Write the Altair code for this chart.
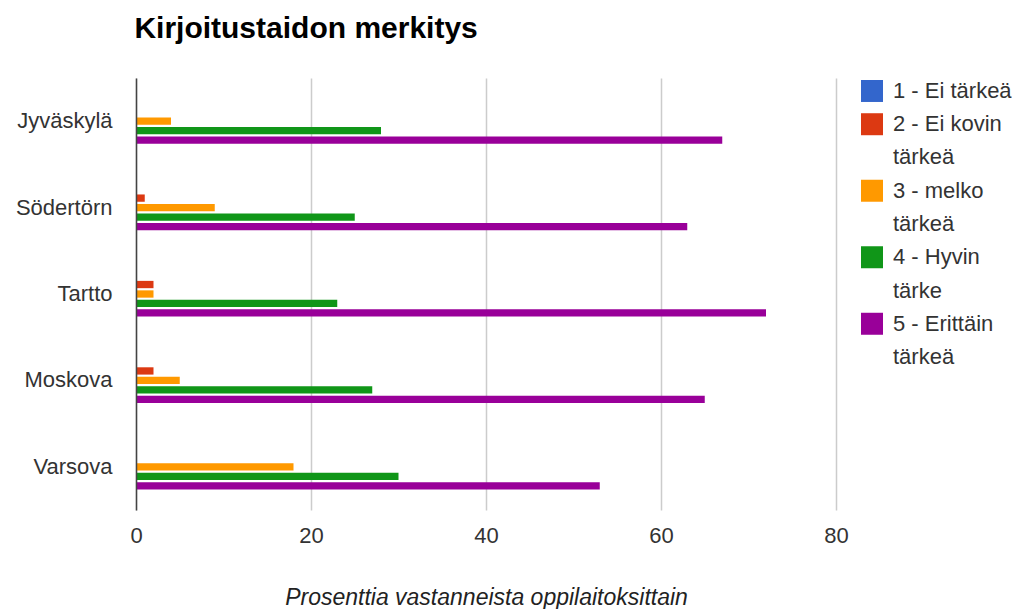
import altair as alt
import pandas as pd

cities = ["Jyväskylä", "Södertörn", "Tartto", "Moskova", "Varsova"]
levels = ["1 - Ei tärkeä", "2 - Ei kovin tärkeä", "3 - melko tärkeä",
          "4 - Hyvin tärke", "5 - Erittäin tärkeä"]
legend_lines = [["1 - Ei tärkeä"], ["2 - Ei kovin", "tärkeä"], ["3 - melko", "tärkeä"],
                ["4 - Hyvin", "tärke"], ["5 - Erittäin", "tärkeä"]]
colors = ["#3366cc", "#dc3912", "#ff9900", "#109618", "#990099"]

v1 = [0, 0, 0, 0, 0]
v2 = [0, 1, 2, 2, 0]
v3 = [4, 9, 2, 5, 18]
v4 = [28, 25, 23, 27, 30]
v5 = [67, 63, 72, 65, 53]
x_ticks = [0, 20, 40, 60, 80]

FONT = "Liberation Sans"

rows = []
for lvl, vals in zip(levels, [v1, v2, v3, v4, v5]):
    for c, v in zip(cities, vals):
        rows.append({"city": c, "level": lvl, "value": v})
df = pd.DataFrame(rows)

bars = alt.Chart(df).mark_bar().encode(
    y=alt.Y("city:N", sort=cities,
            scale=alt.Scale(paddingInner=0.477, paddingOuter=0.238),
            axis=alt.Axis(title=None, ticks=False, labelPadding=24, labelFontSize=22,
                          labelColor="#333333", labelFont=FONT, domainColor="#444444",
                          domainWidth=1.5, zindex=1)),
    yOffset=alt.YOffset("level:N", sort=levels,
                        scale=alt.Scale(paddingInner=0.23, paddingOuter=0)),
    x=alt.X("value:Q", scale=alt.Scale(domain=[0, 80]),
            axis=alt.Axis(values=x_ticks, grid=True, ticks=False, domain=False,
                          gridColor="#cccccc", gridWidth=1.5, labelFlush=False,
                          labelFontSize=22, labelColor="#333333", labelFont=FONT,
                          labelPadding=15,
                          title="Prosenttia vastanneista oppilaitoksittain",
                          titleFontStyle="italic", titleFontWeight="normal",
                          titleFontSize=23, titleColor="#222222", titleFont=FONT,
                          titlePadding=40)),
    color=alt.Color("level:N", sort=levels,
                    scale=alt.Scale(domain=levels, range=colors), legend=None),
).properties(width=700, height=432)

leg_rows = []
line = 0
for lvl, lines in zip(levels, legend_lines):
    for i, t in enumerate(lines):
        leg_rows.append({"level": lvl, "text": t, "line": line, "first": i == 0})
        line += 1
ldf = pd.DataFrame(leg_rows)

yscale = alt.Scale(domain=[-0.39, 12.6], reverse=True)
leg_base = alt.Chart(ldf)
leg_sq = leg_base.transform_filter("datum.first").mark_square(size=484, opacity=1).encode(
    y=alt.Y("line:Q", scale=yscale, axis=None),
    x=alt.value(23),
    color=alt.Color("level:N", scale=alt.Scale(domain=levels, range=colors), legend=None),
)
leg_tx = leg_base.mark_text(align="left", baseline="middle", fontSize=22, font=FONT,
                            color="#333333").encode(
    y=alt.Y("line:Q", scale=yscale, axis=None),
    x=alt.value(44),
    text="text:N",
)
legend = alt.layer(leg_sq, leg_tx).properties(width=150, height=432)

chart = alt.hconcat(bars, legend, spacing=0).properties(
    title=alt.TitleParams("Kirjoitustaidon merkitys", anchor="start", fontSize=30,
                          font=FONT, fontWeight="bold", color="#000000", offset=34, dx=119),
    padding={"left": 7, "top": 6, "right": 0, "bottom": 0},
).configure_view(stroke=None)

chart.save("out.html", embed_options={"renderer": "svg", "actions": False})
